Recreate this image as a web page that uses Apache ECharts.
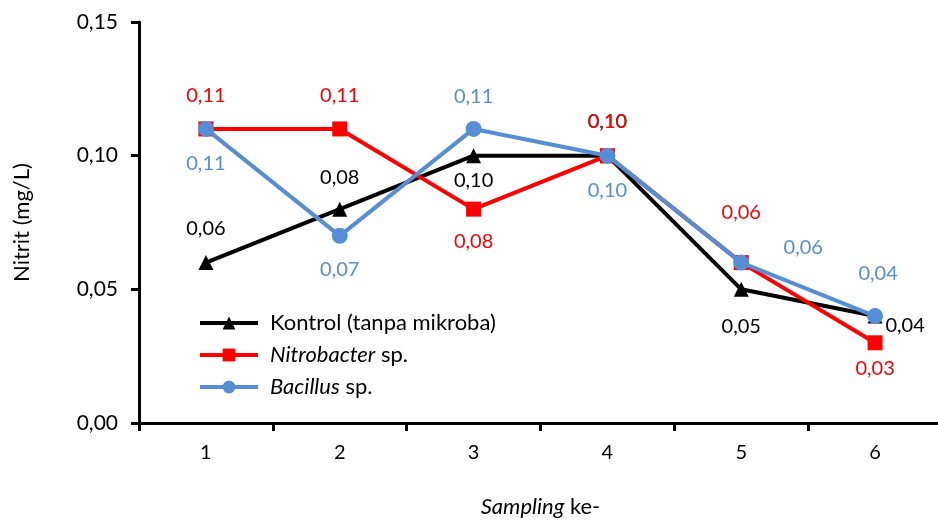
<!DOCTYPE html>
<html>
<head>
<meta charset="utf-8">
<script src="https://cdn.jsdelivr.net/npm/echarts@6/dist/echarts.min.js"></script>
<style>
  html, body { margin: 0; padding: 0; background: #fff; }
  #chart { width: 938px; height: 523px; }
</style>
</head>
<body>
<div id="chart"></div>
<script>
const categories = ['1', '2', '3', '4', '5', '6']
const kontrol = [0.06, 0.08, 0.10, 0.10, 0.05, 0.04]
const nitrobacter = [0.11, 0.11, 0.08, 0.10, 0.06, 0.03]
const bacillus = [0.11, 0.07, 0.11, 0.10, 0.06, 0.04]
const yTicks = [0, 0.05, 0.10, 0.15]

// where each value label sits relative to its point
const kontrolOffsets = [[0, -34], [0, -32], [0, 25], [0, -34], [0, 37], [30, 9]]
const nitroOffsets = [[0, -33], [0, -33], [0, 32], [0, -34], [0, -50], [0, 26]]
const bacillusOffsets = [[0, 35], [0, 34], [0, -32], [0, 35], [62, -15], [3, -43]]

const FONT = 'Lato'
const BLUE = '#558ED5'

function fmt(v) {
  return v.toFixed(2).replace('.', ',')
}

function withLabels(values, offsets, color) {
  return values.map((v, i) => ({
    value: v,
    label: { show: true, position: 'inside', offset: offsets[i], color, fontFamily: FONT, fontSize: 20, formatter: p => fmt(p.value) },
  }))
}

const chart = echarts.init(document.getElementById('chart'), null, { renderer: 'canvas' })

chart.setOption({
  animation: false,
  backgroundColor: '#fff',
  grid: { left: 139, right: -4, top: 22, bottom: 100, containLabel: false, outerBoundsMode: 'none' },
  legend: {
    orient: 'vertical',
    left: 193,
    top: 307,
    itemWidth: 58,
    itemHeight: 16,
    itemGap: 10,
    lineStyle: { width: 4 },
    textStyle: {
      fontFamily: FONT,
      fontSize: 22,
      lineHeight: 22,
      color: '#000',
      rich: {
        i: { fontFamily: FONT, fontSize: 22, lineHeight: 22, fontStyle: 'italic', color: '#000', padding: [0, 0, 0, 7] },
        n: { fontFamily: FONT, fontSize: 22, lineHeight: 22, color: '#000' },
        p: { fontFamily: FONT, fontSize: 22, lineHeight: 22, color: '#000', padding: [0, 0, 0, 7] },
      },
    },
    formatter: name => {
      if (name === 'Nitrobacter')
        return '{i|Nitrobacter}{n| sp.}'
      if (name === 'Bacillus')
        return '{i|Bacillus}{n| sp.}'
      return '{p|' + name + '}'
    },
    data: ['Kontrol (tanpa mikroba)', 'Nitrobacter', 'Bacillus'],
  },
  xAxis: {
    type: 'category',
    data: categories,
    boundaryGap: true,
    name: '{i|Sampling} ke-',
    nameLocation: 'middle',
    nameGap: 73,
    nameTextStyle: {
      fontFamily: FONT,
      fontSize: 22,
      color: '#000',
      rich: { i: { fontFamily: FONT, fontSize: 22, fontStyle: 'italic', color: '#000' } },
    },
    axisLine: { lineStyle: { color: '#000', width: 3 } },
    axisTick: { show: true, length: 8, alignWithLabel: false, lineStyle: { color: '#000', width: 3 } },
    axisLabel: { color: '#000', fontFamily: FONT, fontSize: 20, margin: 20 },
    splitLine: { show: false },
  },
  yAxis: {
    type: 'value',
    min: yTicks[0],
    max: yTicks[yTicks.length - 1],
    interval: 0.05,
    name: 'Nitrit (mg/L)',
    nameLocation: 'middle',
    nameGap: 106,
    nameRotate: 90,
    nameTextStyle: { fontFamily: FONT, fontSize: 22, color: '#000' },
    axisLine: { show: true, lineStyle: { color: '#000', width: 3 } },
    axisTick: { show: true, length: 8, lineStyle: { color: '#000', width: 3 } },
    axisLabel: { color: '#000', fontFamily: FONT, fontSize: 21, margin: 21, formatter: v => fmt(v) },
    splitLine: { show: false },
  },
  series: [
    {
      name: 'Kontrol (tanpa mikroba)',
      type: 'line',
      data: withLabels(kontrol, kontrolOffsets, '#000'),
      symbol: 'triangle',
      symbolSize: 15,
      itemStyle: { color: '#000' },
      lineStyle: { color: '#000', width: 4 },
      z: 2,
    },
    {
      name: 'Nitrobacter',
      type: 'line',
      data: withLabels(nitrobacter, nitroOffsets, '#FF0000'),
      symbol: 'rect',
      symbolSize: 15,
      itemStyle: { color: '#FF0000' },
      lineStyle: { color: '#FF0000', width: 4 },
      z: 3,
    },
    {
      name: 'Bacillus',
      type: 'line',
      data: withLabels(bacillus, bacillusOffsets, BLUE),
      symbol: 'circle',
      symbolSize: 16,
      itemStyle: { color: BLUE },
      lineStyle: { color: BLUE, width: 4 },
      z: 4,
    },
  ],
})
</script>
</body>
</html>
